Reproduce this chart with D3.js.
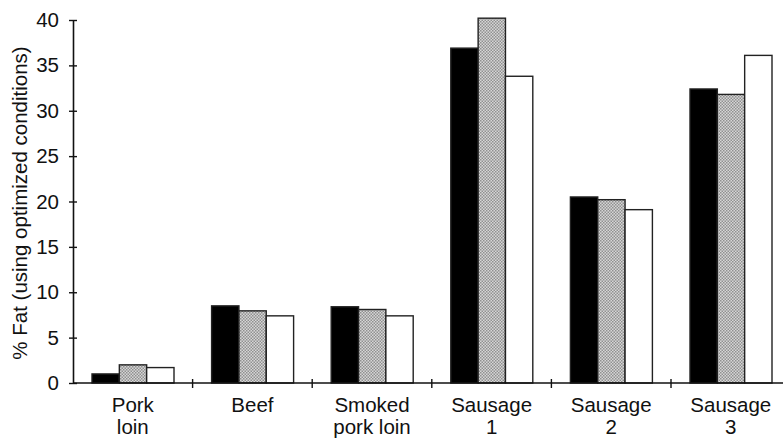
<!DOCTYPE html>
<html>
<head>
<meta charset="utf-8">
<script src="https://cdn.jsdelivr.net/npm/d3@7"></script>
<style>
  body { margin: 0; background: #fff; }
  text { font-family: "Liberation Sans", Arial, sans-serif; fill: #111; }
</style>
</head>
<body>
<script>
// data
let categories = ["Pork\nloin", "Beef", "Smoked\npork loin", "Sausage\n1", "Sausage\n2", "Sausage\n3"]
let seriesNames = ["A", "B", "C"]
let seriesA = [1.0, 8.5, 8.4, 36.9, 20.5, 32.4]
let seriesB = [2.0, 7.95, 8.1, 40.2, 20.2, 31.8]
let seriesC = [1.7, 7.4, 7.4, 33.8, 19.1, 36.1]
let yTicks = [0, 5, 10, 15, 20, 25, 30, 35, 40]

let w = 783
let h = 440
let padLeft = 73
let padBottom = 383
let padTop = 20
let fontSize = "20.5px"

let svg = d3.select("body").append("svg")
  .attr("width", w)
  .attr("height", h)

let defs = svg.append("defs")
let pat = defs.append("pattern")
  .attr("id", "dots")
  .attr("width", 3)
  .attr("height", 3)
  .attr("patternUnits", "userSpaceOnUse")
pat.append("rect").attr("width", 3).attr("height", 3).attr("fill", "#d6d6d6")
pat.append("rect").attr("width", 1.5).attr("height", 1.5).attr("fill", "#909090")
pat.append("rect").attr("x", 1.5).attr("y", 1.5).attr("width", 1.5).attr("height", 1.5).attr("fill", "#909090")

let xScale = d3.scaleBand()
  .domain(categories)
  .range([padLeft, padLeft + 6 * 119.6])

let inner = d3.scaleBand()
  .domain(seriesNames)
  .range([19, 101])

let yScale = d3.scaleLinear()
  .domain([0, 40])
  .range([padBottom, padTop])

let fills = { A: "#000", B: "url(#dots)", C: "#fff" }

let rows = []
categories.forEach((c, i) => {
  rows.push({ cat: c, s: "A", v: seriesA[i] })
  rows.push({ cat: c, s: "B", v: seriesB[i] })
  rows.push({ cat: c, s: "C", v: seriesC[i] })
})

svg.selectAll("rect.bar")
  .data(rows)
  .enter()
  .append("rect")
  .attr("class", "bar")
  .attr("x", d => xScale(d.cat) + inner(d.s))
  .attr("y", d => yScale(d.v))
  .attr("width", inner.bandwidth())
  .attr("height", d => padBottom - yScale(d.v))
  .attr("fill", d => fills[d.s])
  .attr("stroke", "#222")
  .attr("stroke-width", 1.4)

// y axis
let yAxis = d3.axisLeft(yScale).tickValues(yTicks).tickSizeInner(4).tickSizeOuter(0).tickPadding(10)
let gy = svg.append("g")
  .attr("transform", "translate(" + padLeft + ",0)")
  .call(yAxis)
gy.select(".domain").attr("stroke", "#111").attr("stroke-width", 1.6)
gy.selectAll(".tick line").attr("stroke", "#111").attr("stroke-width", 1.4).attr("x2", -4).attr("x1", 4)
gy.selectAll(".tick text").style("font-size", fontSize).attr("fill", "#111")

// x axis line and ticks between groups
svg.append("line")
  .attr("x1", padLeft).attr("x2", w)
  .attr("y1", padBottom).attr("y2", padBottom)
  .attr("stroke", "#111").attr("stroke-width", 1.6)

svg.selectAll("line.sep")
  .data(categories.slice(1))
  .enter()
  .append("line")
  .attr("class", "sep")
  .attr("x1", d => xScale(d)).attr("x2", d => xScale(d))
  .attr("y1", padBottom - 4).attr("y2", padBottom + 5)
  .attr("stroke", "#111").attr("stroke-width", 1.4)

let labels = svg.selectAll("text.cat")
  .data(categories)
  .enter()
  .append("text")
  .attr("class", "cat")
  .attr("text-anchor", "middle")
  .style("font-size", fontSize)
labels.each(function(d) {
  let parts = d.split("\n")
  let t = d3.select(this)
  parts.forEach((p, i) => {
    t.append("tspan")
      .attr("x", xScale(d) + xScale.bandwidth() / 2)
      .attr("y", 412 + i * 22)
      .text(p)
  })
})

svg.append("text")
  .attr("transform", "translate(27," + 203 + ") rotate(-90)")
  .attr("text-anchor", "middle")
  .style("font-size", fontSize)
  .text("% Fat (using optimized conditions)")
</script>
</body>
</html>
